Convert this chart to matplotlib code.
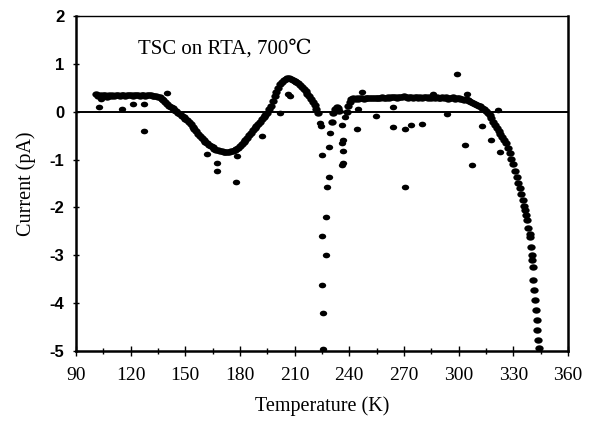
import numpy as np
import matplotlib
matplotlib.use("Agg")
import matplotlib.pyplot as plt
from matplotlib.path import Path
from matplotlib.transforms import Affine2D

# ---------------- data ----------------
# main curve, low-temperature part (K, pA)
temp_a = [101, 102, 103, 104, 105, 106, 107, 108, 109, 110, 111, 112, 113, 114, 115,
          116, 117, 118, 119, 120, 121, 122, 123, 124, 125, 126, 127, 128, 129, 130,
          131, 132, 133, 134, 135, 136, 137, 138, 139, 140, 141, 142, 143, 144, 145,
          146, 147, 148, 149, 150, 151, 152, 153, 154, 155, 156, 157, 158, 159, 160,
          161, 162, 163, 164, 165, 166, 167, 168, 169, 170, 171, 172, 173, 174, 175,
          176, 177, 178, 179, 180, 181, 182, 183, 184, 185, 186, 187, 188, 189, 190,
          191, 192, 193, 194, 195, 196, 197, 198, 199, 200, 201, 202, 203, 204, 205,
          206, 207, 208, 209, 210, 211, 212, 213, 214, 215, 216, 217, 218, 219, 220,
          221, 222, 223]
curr_a = [0.38, 0.33, 0.36, 0.32, 0.34, 0.35, 0.31, 0.34, 0.33, 0.35, 0.32, 0.34, 0.35, 0.33, 0.36,
          0.34, 0.33, 0.35, 0.34, 0.36, 0.33, 0.35, 0.34, 0.36, 0.33, 0.35, 0.34, 0.33, 0.35, 0.34,
          0.34, 0.33, 0.33, 0.32, 0.31, 0.30, 0.27, 0.24, 0.20, 0.16, 0.13, 0.10, 0.07, 0.04, 0.01,
          -0.02, -0.05, -0.09, -0.12, -0.15, -0.18, -0.22, -0.26, -0.31, -0.36, -0.41, -0.46, -0.51, -0.55, -0.59,
          -0.63, -0.66, -0.69, -0.72, -0.74, -0.77, -0.79, -0.80, -0.82, -0.83, -0.84, -0.85, -0.85, -0.84, -0.83,
          -0.81, -0.79, -0.77, -0.75, -0.72, -0.68, -0.64, -0.59, -0.54, -0.49, -0.44, -0.39, -0.34, -0.30, -0.25,
          -0.21, -0.16, -0.12, -0.07, -0.02, 0.05, 0.12, 0.22, 0.32, 0.41, 0.50, 0.57, 0.62, 0.66, 0.69,
          0.70, 0.70, 0.69, 0.67, 0.65, 0.62, 0.59, 0.55, 0.51, 0.47, 0.43, 0.38, 0.33, 0.27, 0.21,
          0.14, 0.06, -0.03]

# small recovery bump after the dip
temp_b = [230.3, 231.2, 232.1, 233.1, 233.6, 234.2]
curr_b = [-0.21, -0.03, 0.05, 0.10, 0.08, 0.02]

# plateau and high-temperature fall (K, pA)
temp_c = [238.6, 239.5, 240.4, 241.2, 242, 243, 244, 245, 246, 247, 248, 249, 250, 251, 252,
          253, 254, 255, 256, 257, 258, 259, 260, 261, 262, 263, 264, 265, 266, 267,
          268, 269, 270, 271, 272, 273, 274, 275, 276, 277, 278, 279, 280, 281, 282,
          283, 284, 285, 286, 287, 288, 289, 290, 291, 292, 293, 294, 295, 296, 297,
          298, 299, 300, 301, 302, 303, 304, 305, 306, 307, 308, 309, 310, 311, 312,
          313, 314, 315, 316, 317, 318, 319, 320, 321, 322, 323, 324, 325, 326, 327,
          328, 329, 330, 331, 331.9, 332.8, 333.7, 334.5, 335.2, 336.0, 336.4, 337.0,
          337.4, 338.3, 339.0, 339.2, 339.6, 340.1, 340.4, 340.7, 341.0, 341.4, 341.9,
          342.3, 342.9, 343.2, 343.7, 344.3]
curr_c = [0.00, 0.12, 0.21, 0.26, 0.28, 0.27, 0.28, 0.27, 0.28, 0.28, 0.27, 0.29, 0.28, 0.28, 0.29,
          0.28, 0.29, 0.29, 0.28, 0.29, 0.30, 0.29, 0.29, 0.30, 0.29, 0.30, 0.31, 0.30, 0.29, 0.30,
          0.31, 0.30, 0.32, 0.30, 0.29, 0.31, 0.30, 0.29, 0.30, 0.31, 0.29, 0.30, 0.28, 0.30, 0.31,
          0.29, 0.30, 0.28, 0.32, 0.29, 0.30, 0.28, 0.29, 0.31, 0.28, 0.30, 0.27, 0.29, 0.28, 0.30,
          0.27, 0.29, 0.28, 0.26, 0.27, 0.25, 0.26, 0.24, 0.22, 0.21, 0.19, 0.17, 0.15, 0.13, 0.11,
          0.08, 0.05, 0.02, -0.02, -0.07, -0.14, -0.22, -0.28, -0.34, -0.40, -0.46, -0.52, -0.58, -0.66, -0.75,
          -0.86, -0.98, -1.10, -1.23, -1.36, -1.48, -1.60, -1.72, -1.84, -1.96, -2.05, -2.15,
          -2.26, -2.43, -2.55, -2.61, -2.82, -2.99, -3.10, -3.24, -3.51, -3.72, -3.93,
          -4.14, -4.35, -4.56, -4.77, -4.94]

# scattered points (outliers, dip near 226 K)
temp_s = [102.8, 103.5, 115.1, 121.4, 127.3, 127.5, 139.8, 161.7, 167.6, 167.6, 177.8, 178.2,
          192.3, 201.8, 206.5, 207.5,
          224.8, 229.0, 229.4, 223.9, 224.3, 228.9, 227.9, 227.2, 225.2, 227.2, 225.2, 225.4, 225.4,
          235.8, 237.6, 236.3, 236.0, 236.3, 236.3, 236.0,
          244.4, 245.0, 246.8, 254.5, 264.2, 263.8, 270.6, 273.7, 279.7, 270.6, 286.1, 293.5,
          299.0, 304.4, 303.5, 307.2, 312.7, 317.8, 322.7, 321.8]
curr_s = [0.10, 0.27, 0.06, 0.16, 0.16, -0.40, 0.40, -0.88, -1.08, -1.23, -1.46, -0.92,
          -0.51, -0.02, 0.38, 0.32,
          -0.90, -0.74, -0.44, -0.24, -0.30, -1.37, -1.58, -2.20, -2.59, -2.99, -3.62, -4.20, -4.96,
          -0.28, -0.10, -0.58, -0.65, -0.81, -1.08, -1.12,
          -0.37, 0.05, 0.42, -0.09, 0.10, -0.31, -0.37, -0.28, -0.26, -1.58, 0.37, -0.04,
          0.79, 0.37, -0.70, -1.11, -0.29, -0.60, -0.84, 0.03]

x_ticks = [90, 120, 150, 180, 210, 240, 270, 300, 330, 360]
y_ticks = [2, 1, 0, -1, -2, -3, -4, -5]
annotation = "TSC on RTA, 700\u2103"

# ---------------- figure ----------------
fig = plt.figure(figsize=(5.94, 4.21), dpi=100)
ax = fig.add_axes([0.128, 0.166, 0.828, 0.796])

dot = Path.unit_circle().transformed(Affine2D().scale(1.3, 1.0))
curve_kw = dict(marker=dot, s=36, c="black", linewidths=0, zorder=3)
out_kw = dict(marker=dot, s=28, c="black", linewidths=0, zorder=3)
ax.scatter(temp_a, curr_a, **curve_kw)
ax.scatter(temp_b, curr_b, **curve_kw)
ax.scatter(temp_c, curr_c, **curve_kw)
ax.scatter(temp_s, curr_s, **out_kw)

ax.axhline(0, color="black", lw=1.4, zorder=2)

ax.set_xlim(90, 360)
ax.set_ylim(-5, 2)
ax.set_xticks(x_ticks)
ax.set_xticks(np.array(x_ticks[:-1]) + 15, minor=True)
ax.set_yticks(y_ticks)

serif = ["Liberation Serif", "DejaVu Serif"]
ax.set_xticklabels([str(v) for v in x_ticks], fontsize=14, family=serif)
ax.set_yticklabels([str(v) for v in y_ticks], fontsize=12, family="Liberation Sans",
                   fontweight="bold")
ax.tick_params(axis="both", which="both", direction="inout", color="black", width=1.0)
ax.tick_params(axis="x", which="major", length=7, pad=8)
ax.tick_params(axis="x", which="minor", length=5)
ax.tick_params(axis="y", which="major", length=5, pad=6)

for side in ["left", "bottom", "right"]:
    ax.spines[side].set_linewidth(1.8)
ax.spines["top"].set_linewidth(1.0)

ax.set_xlabel("Temperature (K)", fontsize=14.5, family=serif, labelpad=9)
ax.set_ylabel("Current (pA)", fontsize=14.5, family=serif, labelpad=10)

ax.text(0.126, 0.90, annotation, transform=ax.transAxes, fontsize=15,
        family=serif, ha="left", va="center")

fig.savefig("out.png", dpi=100)
